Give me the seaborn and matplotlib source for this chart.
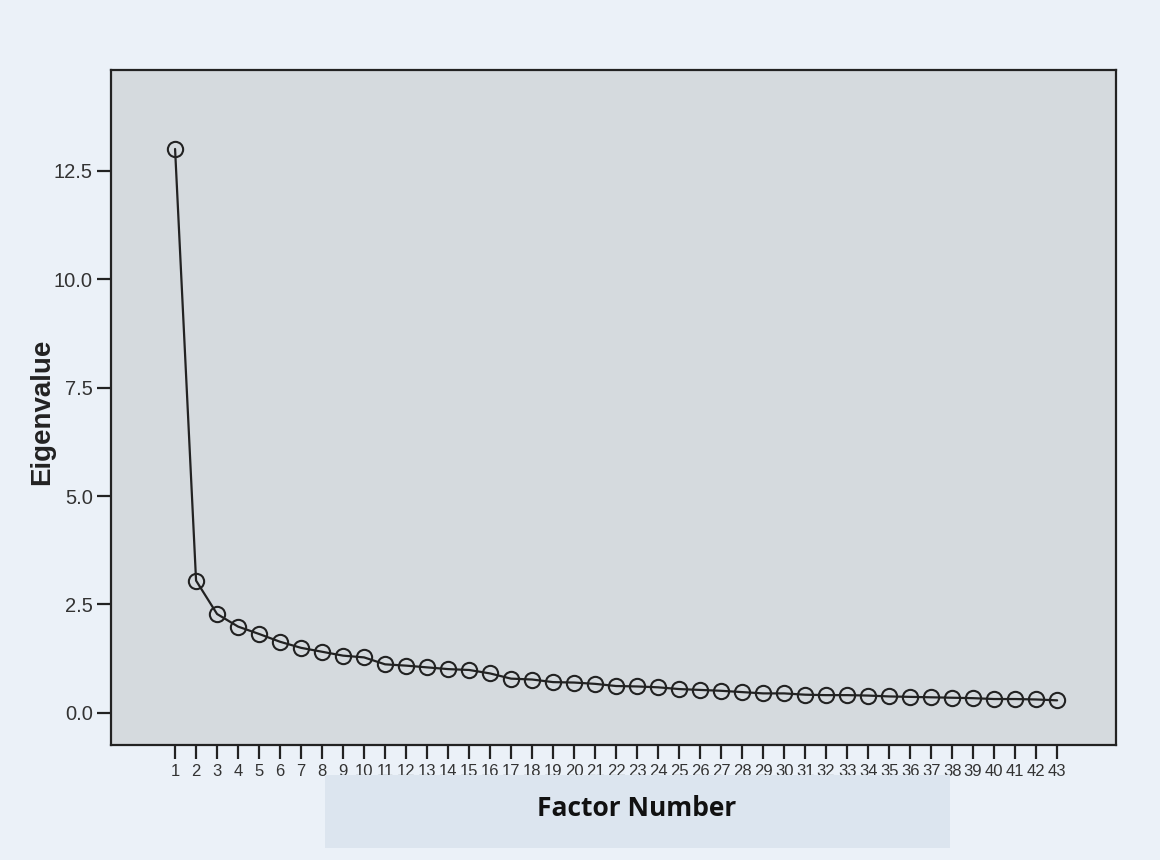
import matplotlib
matplotlib.use("Agg")
import matplotlib.pyplot as plt
import pandas as pd
import seaborn as sns

# scree plot values
factor_number = list(range(1, 44))
eigenvalues = [
    13.00, 3.05, 2.28, 1.99, 1.82, 1.64, 1.50, 1.41, 1.32, 1.28,
    1.12, 1.09, 1.05, 1.01, 0.99, 0.91, 0.79, 0.77, 0.71, 0.70,
    0.67, 0.62, 0.61, 0.59, 0.55, 0.53, 0.51, 0.48, 0.45, 0.45,
    0.42, 0.41, 0.41, 0.40, 0.38, 0.37, 0.36, 0.35, 0.34, 0.32,
    0.32, 0.31, 0.29,
]
y_ticks = [0.0, 2.5, 5.0, 7.5, 10.0, 12.5]

df = pd.DataFrame({"factor": factor_number, "eigenvalue": eigenvalues})

sns.set_theme(style="ticks")
plt.rcParams["font.family"] = ["Liberation Sans", "DejaVu Sans"]

fig = plt.figure(figsize=(11.6, 8.6), dpi=100, facecolor="#ebf1f8")
ax = fig.add_axes([0.0957, 0.1337, 0.8663, 0.7849])
ax.set_facecolor("#d5dade")

sns.lineplot(data=df, x="factor", y="eigenvalue", ax=ax, color="#222222",
             linewidth=1.6, marker="o", markersize=11, markerfacecolor="none",
             markeredgecolor="#222222", markeredgewidth=1.5)

ax.set_xlim(-2.05, 45.8)
ax.set_ylim(-0.74, 14.82)
ax.set_xticks(factor_number)
ax.set_xticklabels([str(f) for f in factor_number], fontsize=12, color="#333333")
ax.set_yticks(y_ticks)
ax.set_yticklabels([f"{v:.1f}" for v in y_ticks], fontsize=14.5, color="#333333")
ax.tick_params(axis="both", direction="out", length=10, width=1.6, color="#222222")
ax.tick_params(axis="x", pad=4)
ax.tick_params(axis="y", pad=3)

for side in ax.spines.values():
    side.set_visible(True)
    side.set_linewidth(1.6)
    side.set_color("#222222")

ax.set_xlabel("")
ax.set_ylabel("Eigenvalue", fontsize=20, fontweight="bold", color="#222222")
ax.yaxis.set_label_coords(-0.056, 0.493)

# label box under the axis, like the pasted-on caption in the scan
fig.patches.append(plt.Rectangle((325 / 1160, 12 / 860), 625 / 1160, 73 / 860,
                                 transform=fig.transFigure, facecolor="#dce5ef",
                                 edgecolor="none", zorder=0))
fig.text(637 / 1160, 51 / 860, "Factor Number", ha="center", va="center",
         fontsize=19, fontweight="bold", family=["Open Sans", "DejaVu Sans"],
         color="#111111")

fig.savefig("out.png", dpi=100, facecolor=fig.get_facecolor())
